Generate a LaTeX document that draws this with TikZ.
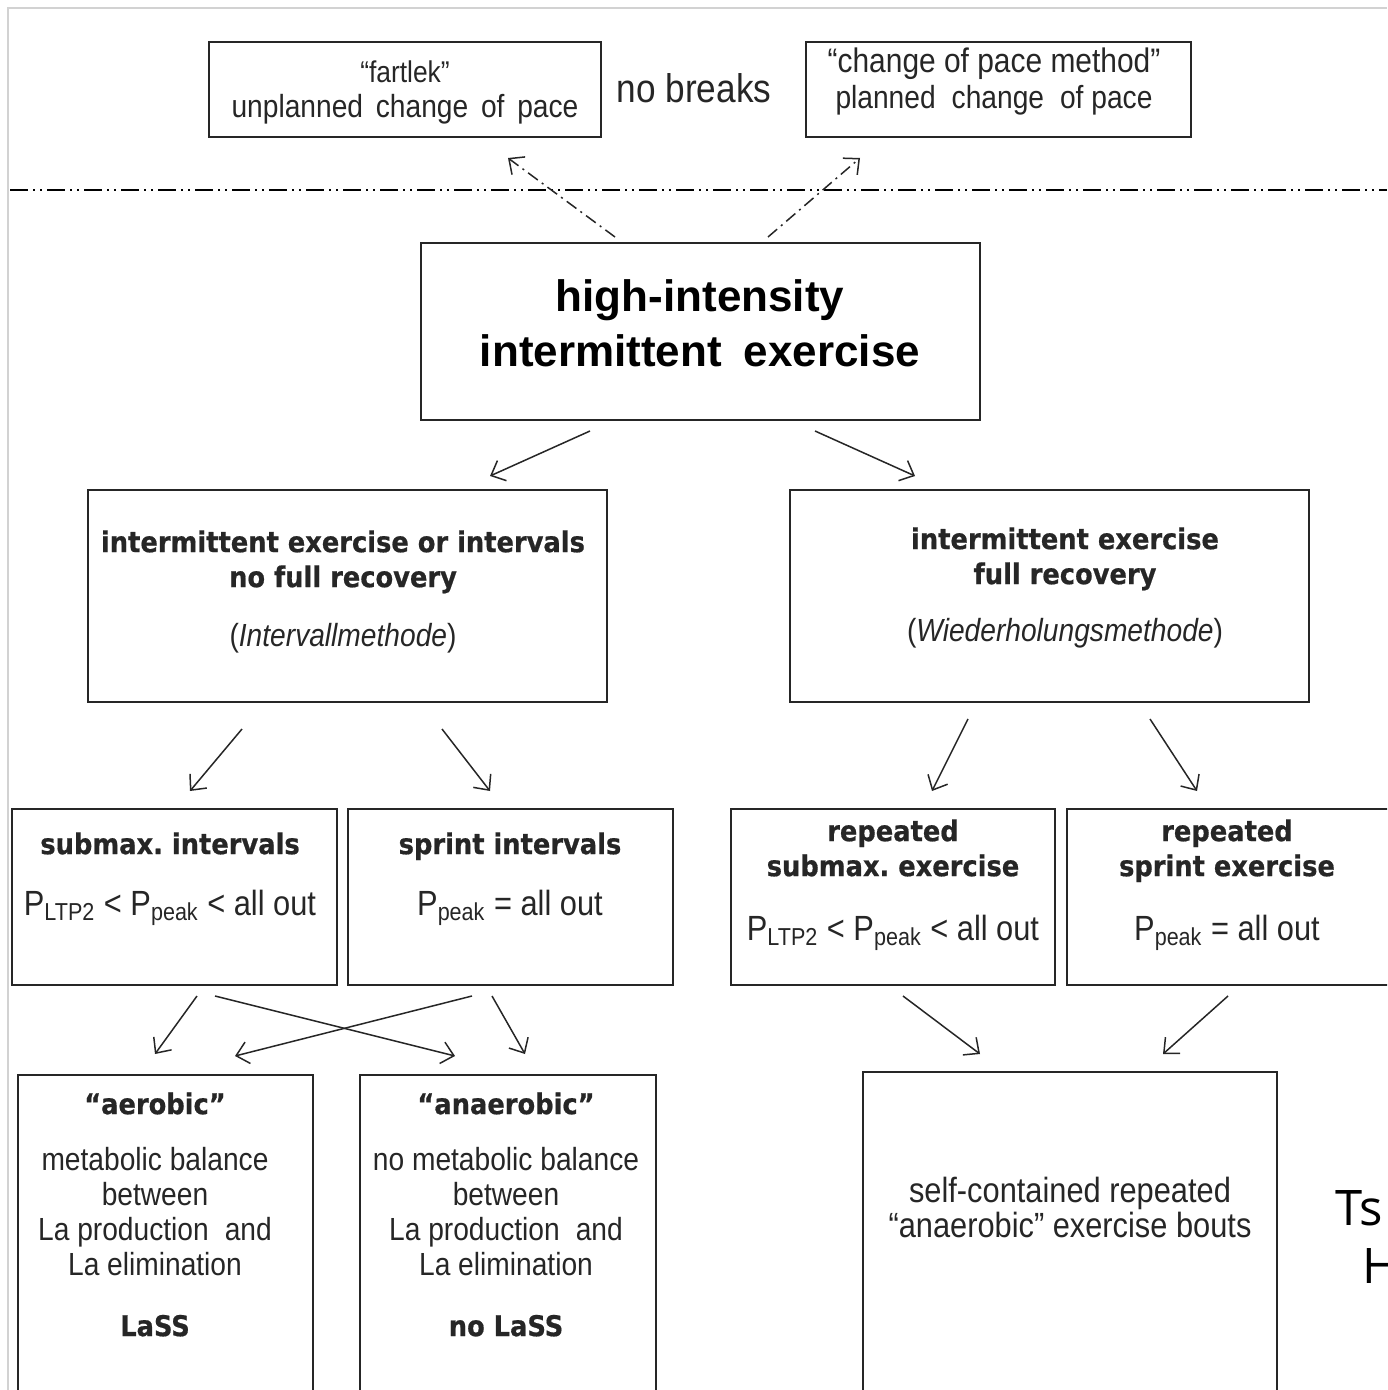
\documentclass[tikz,border=0pt]{standalone}
\usepackage{fontspec}
\setmainfont{Liberation Sans}[FakeStretch=0.88]
\newfontfamily\tahomab{DejaVu Sans Condensed Bold}[FakeBold=0.6]
\newfontfamily\hiefont{Liberation Sans Bold}
\newfontfamily\sidefont{Open Sans}
\usetikzlibrary{arrows.meta,positioning,calc}
\frenchspacing

\tikzset{
  box/.style={draw=black!85, line width=1pt, inner sep=0pt},
  txt/.style={align=center, anchor=north, inner sep=0pt, text=black!85},
  arr/.style={-{Straight Barb[length=6pt,width=11pt]}, line width=0.75pt, black!85},
  dashdot/.style={dash pattern=on 9pt off 2.5pt on 1pt off 2.5pt on 1pt off 2.5pt, line width=1pt},
  dotarr/.style={dash pattern=on 6pt off 2.5pt on 1pt off 2.5pt}
}
\newcommand{\hd}{\tahomab\fontsize{14.3}{17.5}\selectfont}
\newcommand{\nm}{\rmfamily\mdseries\fontsize{16}{17.5}\selectfont}
\newcommand{\pw}{\rmfamily\mdseries\fontsize{17.5}{17.5}\selectfont}

\begin{document}
\begin{tikzpicture}[x=0.5pt,y=-0.5pt]
\useasboundingbox (0,0) rectangle (1387,1390);
\clip (0,0) rectangle (1387,1390);
\draw[gray!35, line width=0.6pt] (8,1390) -- (8,8) -- (1387,8);

\node[box, minimum width=196pt, minimum height=47.5pt] (fartlek) at (405,89.5) {};
\node[txt, font=\fontsize{15}{17.5}\selectfont] (fartlektxt) at (405,60) {“fartlek”\\\nm unplanned\hspace{0.4em}change\hspace{0.4em}of\hspace{0.4em}pace};
\node[inner sep=0pt, font=\fontsize{20}{22}\selectfont, text=black!85] (nobreaks) at (694,88) {no breaks};
\node[box, minimum width=192.5pt, minimum height=47.5pt] (pace) at (998.5,89.5) {};
\node[txt, font=\fontsize{17}{18}\selectfont] (pacetxt) at (994,47) {“change of pace method”\\\fontsize{16}{18}\selectfont planned\enspace change\enspace of pace};

\draw[dashdot] (10,190) -- (1387,190);

\node[box, minimum width=279.5pt, minimum height=88.5pt] (hie) at (700.5,331.5) {};
\node[txt, font=\hiefont\fontsize{22}{27.5}\selectfont, text=black] (hietxt) at (700,279) {high-intensity\\intermittent\enspace exercise};

\node[box, minimum width=259.5pt, minimum height=106pt] (ifr) at (347.5,596) {};
\node[txt, font=\hd] (ifrtxt) at (343,530) {intermittent exercise or intervals\\no full recovery\\[12pt]\nm(\textit{Intervallmethode})};
\node[box, minimum width=259.5pt, minimum height=106pt] (fr) at (1049.5,596) {};
\node[txt, font=\hd] (frtxt) at (1065,527) {intermittent exercise\\full recovery\\[11pt]\nm(\textit{Wiederholungsmethode})};

\node[box, minimum width=162.5pt, minimum height=88pt] (sub) at (174.5,897) {};
\node[txt, font=\hd] (subtxt) at (170,832) {submax. intervals\\[13pt]\pw P\textsubscript{LTP2} < P\textsubscript{peak} < all out};
\node[box, minimum width=162.5pt, minimum height=88pt] (spr) at (510.5,897) {};
\node[txt, font=\hd] (sprtxt) at (510,832) {sprint intervals\\[13pt]\pw P\textsubscript{peak} = all out};
\node[box, minimum width=162pt, minimum height=88pt] (rsub) at (893,897) {};
\node[txt, font=\hd] (rsubtxt) at (893,819) {repeated\\submax. exercise\\[14.5pt]\pw P\textsubscript{LTP2} < P\textsubscript{peak} < all out};
\node[box, minimum width=162.5pt, minimum height=88pt] (rspr) at (1229.5,897) {};
\node[txt, font=\hd] (rsprtxt) at (1227,819) {repeated\\sprint exercise\\[14.5pt]\pw P\textsubscript{peak} = all out};

\node[box, minimum width=147.5pt, minimum height=182.5pt] (aer) at (165.5,1257.5) {};
\node[txt, font=\nm] (aertxt) at (155,1092) {\hd “aerobic”\\[10.5pt]metabolic balance\\between\\La production\enspace and\\La elimination\\[13pt]\hd LaSS};
\node[box, minimum width=148pt, minimum height=182.5pt] (ana) at (508,1257.5) {};
\node[txt, font=\nm] (anatxt) at (506,1092) {\hd “anaerobic”\\[10.5pt]no metabolic balance\\between\\La production\enspace and\\La elimination\\[13pt]\hd no LaSS};
\node[box, minimum width=207pt, minimum height=184pt] (sc) at (1070,1256) {};
\node[txt, font=\fontsize{17.5}{17.5}\selectfont] (sctxt) at (1070,1177) {self-contained repeated\\“anaerobic” exercise bouts};

\node[inner sep=0pt, anchor=north west, font=\sidefont\fontsize{24.5}{28}\selectfont] (ts) at (1335,1190) {Ts};
\node[inner sep=0pt, anchor=north west, font=\sidefont\fontsize{24.5}{28}\selectfont] (hh) at (1362,1248) {H};

\draw[arr, dotarr] ($(hie.north)+(-85.5,-5)$) -- ($(fartlek.south)+(103,20)$);
\draw[arr, dotarr] ($(hie.north)+(67.5,-5)$) -- ($(pace.south)+(-138.5,20)$);
\draw[arr] ($(hie.south)+(-110.5,10)$) -- ($(ifr.north)+(142.5,-13)$);
\draw[arr] ($(hie.south)+(114.5,10)$) -- ($(fr.north)+(-134.5,-13)$);
\draw[arr] ($(ifr.south)+(-105.5,26)$) -- ($(sub.north)+(15.5,-17)$);
\draw[arr] ($(ifr.south)+(94.5,26)$) -- ($(spr.north)+(-20.5,-17)$);
\draw[arr] ($(fr.south)+(-81.5,16)$) -- ($(rsub.north)+(39,-17)$);
\draw[arr] ($(fr.south)+(100.5,16)$) -- ($(rspr.north)+(-32.5,-17)$);
\draw[arr] ($(sub.south)+(22.5,10)$) -- ($(aer.north)+(-10.5,-20)$);
\draw[arr] ($(sub.south)+(40.5,10)$) -- ($(ana.north)+(-53,-18)$);
\draw[arr] ($(spr.south)+(-38.5,10)$) -- ($(aer.north)+(69.5,-18)$);
\draw[arr] ($(spr.south)+(-18.5,10)$) -- ($(ana.north)+(17,-20)$);
\draw[arr] ($(rsub.south)+(10,10)$) -- ($(sc.north)+(-90,-17)$);
\draw[arr] ($(rspr.south)+(-1.5,10)$) -- ($(sc.north)+(93,-17)$);
\end{tikzpicture}
\end{document}
